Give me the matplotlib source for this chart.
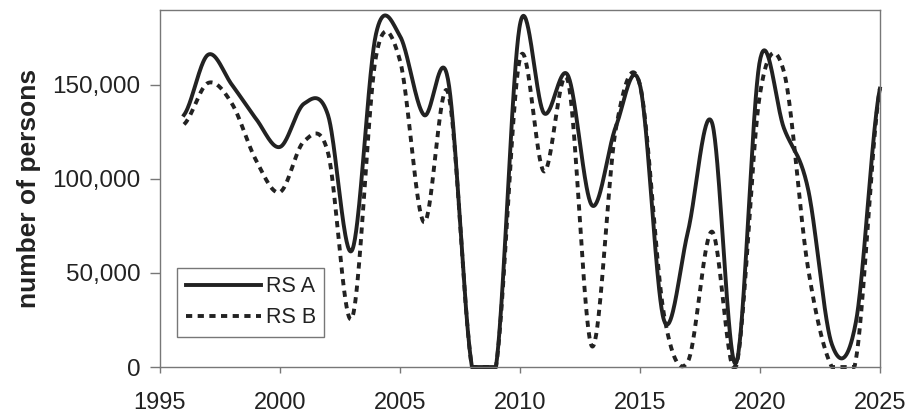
import numpy as np
import matplotlib
matplotlib.use("Agg")
import matplotlib.pyplot as plt
from matplotlib.ticker import FuncFormatter

years = list(range(1996, 2026))

rs_a = [134000, 166000, 150000, 132000, 117000, 140000, 134000, 62000, 177000, 176000,
        134000, 153000, 0, 0, 182000, 135000, 155000, 86000, 128000, 150000,
        25000, 72000, 130000, 2000, 163000, 127000, 95000, 12000, 24000, 148000]

rs_b = [129000, 151000, 140000, 110000, 93000, 120000, 114000, 26000, 165000, 163000,
        77000, 146000, 0, 0, 164000, 104000, 152000, 11000, 127000, 150000,
        28000, 3000, 72000, 0, 145000, 157000, 53000, 0, 4000, 148000]

labels = ["RS A", "RS B"]


# smoothed line like the spreadsheet one (catmull-rom through the yearly points)
def smooth(x, y, n=40):
    x = np.asarray(x, float)
    y = np.asarray(y, float)
    xp = np.concatenate([[2*x[0]-x[1]], x, [2*x[-1]-x[-2]]])
    yp = np.concatenate([[y[0]], y, [y[-1]]])
    xs, ys = [], []
    for i in range(1, len(xp)-2):
        m0 = (yp[i+1]-yp[i-1])/2
        m1 = (yp[i+2]-yp[i])/2
        t = np.linspace(0, 1, n, endpoint=False)
        h00 = 2*t**3 - 3*t**2 + 1
        h10 = t**3 - 2*t**2 + t
        h01 = -2*t**3 + 3*t**2
        h11 = t**3 - t**2
        xs.append(xp[i] + t*(xp[i+1]-xp[i]))
        ys.append(h00*yp[i] + h10*m0 + h01*yp[i+1] + h11*m1)
    xs.append([x[-1]])
    ys.append([y[-1]])
    # no negative head counts, the curve runs along the axis instead
    return np.concatenate(xs), np.clip(np.concatenate(ys), 0, None)


plt.rcParams['font.family'] = ['Liberation Sans', 'DejaVu Sans']

fig = plt.figure(figsize=(9.09, 4.19), dpi=100)
ax = fig.add_axes([0.176, 0.124, 0.792, 0.853])

col = "#222222"
xa, ya = smooth(years, rs_a)
xb, yb = smooth(years, rs_b)
ax.plot(xa, ya, color=col, lw=2.8, label=labels[0], clip_on=False)
ax.plot(xb, yb, color=col, lw=2.8, dashes=(1.6, 1.4), label=labels[1], clip_on=False)

ax.set_xlim(1995, 2025)
ax.set_ylim(0, 190000)
ax.set_xticks([1995, 2000, 2005, 2010, 2015, 2020, 2025])
ax.set_yticks([0, 50000, 100000, 150000])
ax.yaxis.set_major_formatter(FuncFormatter(lambda v, p: f"{int(v):,}"))

for s in ax.spines.values():
    s.set_color("#777777")
    s.set_linewidth(1.0)
ax.tick_params(axis="both", direction="out", length=7, width=1.0, color="#777777",
               labelcolor="#222222")
ax.tick_params(axis="y", pad=7, labelsize=17.5)
ax.tick_params(axis="x", length=4, pad=14, labelsize=17)

ax.set_ylabel("number of persons", fontsize=19, fontweight="bold", color="#222222", labelpad=8)

leg = ax.legend(loc="lower left", bbox_to_anchor=(0.024, 0.085), fontsize=15.5,
                handlelength=3.5, handletextpad=0.2, frameon=True, fancybox=False,
                borderpad=0.4, labelspacing=0.45, borderaxespad=0)
leg.get_frame().set_edgecolor("#555555")
leg.get_frame().set_linewidth(1.0)
for t in leg.get_texts():
    t.set_color("#222222")

fig.savefig("out.png", dpi=100)
